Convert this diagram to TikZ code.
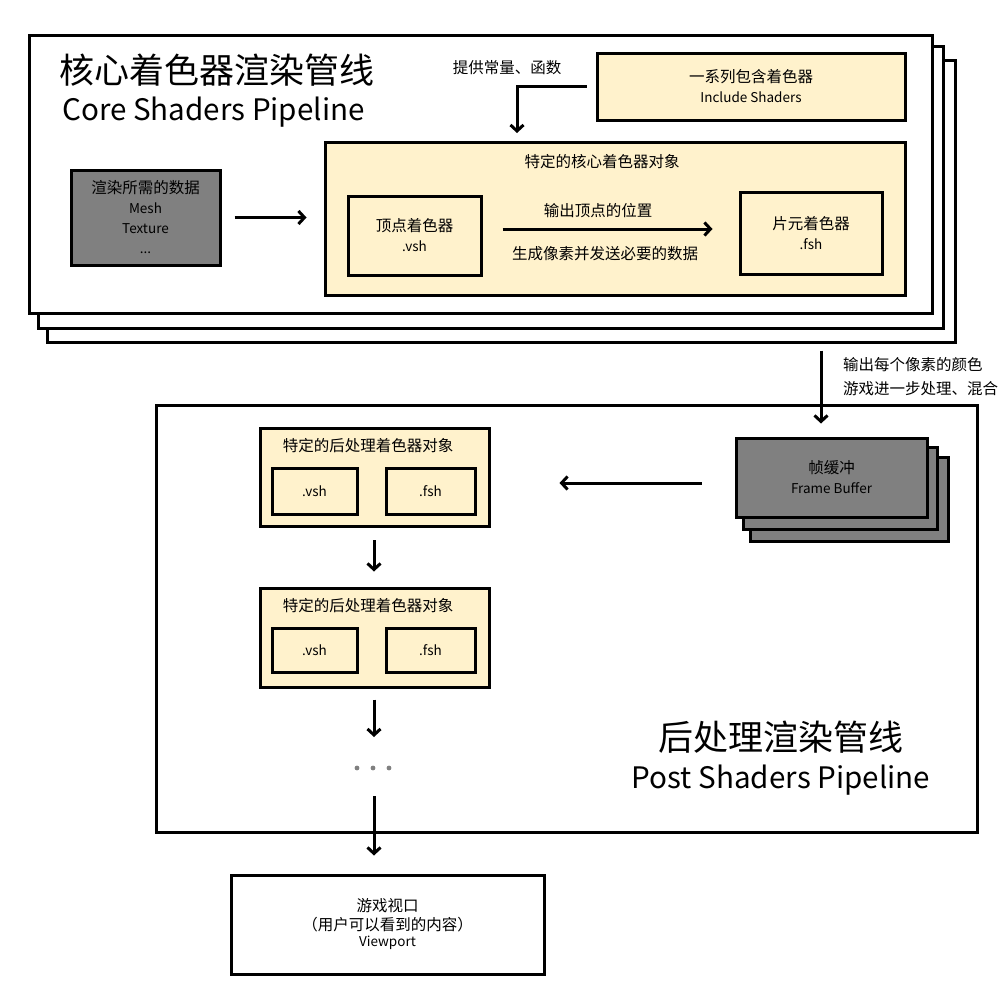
\documentclass[tikz,border=0pt]{standalone}
\usepackage{fontspec}
\setmainfont{Noto Sans CJK SC}
\usetikzlibrary{arrows.meta,calc}
\definecolor{ylw}{HTML}{FFF2CC}
\definecolor{gry}{HTML}{808080}
\newcommand{\zh}{\fontsize{15.5}{20}\selectfont}
\newcommand{\en}{\fontsize{13.5}{20}\selectfont}
\begin{document}
\begin{tikzpicture}[x=1pt,y=-1pt,
  box/.style={draw=black, line width=3pt, inner sep=0pt, align=center, text=black, font=\zh},
  wbox/.style={box, fill=white},
  ybox/.style={box, fill=ylw},
  gbox/.style={box, fill=gry},
  arr/.style={line width=3pt, -{Straight Barb[length=6pt,width=13pt,line width=3pt]}},
  lbl/.style={inner sep=0pt, align=center},
  bigzh/.style={lbl, font=\fontsize{35}{38}\selectfont},
  bigen/.style={lbl, font=\fontsize{29.6}{32}\selectfont},
]
\useasboundingbox (0,0) rectangle (1007,1001);
\fill[white] (0,0) rectangle (1007,1001);

% ---- core shader stack
\node[wbox, minimum width=908, minimum height=282] (core3) at (501,201) {};
\node[wbox, minimum width=905, minimum height=282] (core2) at (490.5,187) {};
\node[wbox, minimum width=903, minimum height=278] (core1) at (480.5,174) {};
\node[bigzh, anchor=west] (coretitle) at (59,70) {核心着色器渲染管线};
\node[bigen, anchor=west] (coresub) at (62,112) {Core Shaders Pipeline};

\node[gbox, minimum width=149, minimum height=95] (data) at (145.5,217.5)
  {渲染所需的数据\\{\en Mesh}\\{\en Texture}\\{\en ...}};

\node[ybox, minimum width=308, minimum height=67] (inc) at (751,86.5)
  {一系列包含着色器\\{\en Include Shaders}};
\node[lbl, font=\zh] (inclbl) at (507,68) {提供常量、函数};

\node[ybox, minimum width=580, minimum height=153] (obj) at (615,218.5) {};
\node[lbl, font=\zh] (objtitle) at (602,162) {特定的核心着色器对象};
\node[ybox, minimum width=133, minimum height=79] (vsh) at (414.5,235.5)
  {顶点着色器\\{\en .vsh}};
\node[ybox, minimum width=142, minimum height=82] (fsh) at (811,233)
  {片元着色器\\{\en .fsh}};
\node[lbl, font=\zh] (vlbl1) at (598,211) {输出顶点的位置};
\node[lbl, font=\zh] (vlbl2) at (605,254) {生成像素并发送必要的数据};

\coordinate (elbend) at (517,133);
\draw[arr, shorten <=9pt] (inc.west) -| (elbend);
\draw[arr, shorten <=13pt, shorten >=17pt] (data.east) -- (data.east -| obj.west);
\draw[arr, shorten <=20pt, shorten >=26pt] (vsh.east |- 0,229) -- (fsh.west |- 0,229);

% ---- post pipeline
\node[wbox, minimum width=821, minimum height=427] (post) at (566.5,618.5) {};
\node[bigzh] (posttitle) at (781,737) {后处理渲染管线};
\node[bigen] (postsub) at (781,780) {Post Shaders Pipeline};

\node[gbox, minimum width=198, minimum height=84] (fb3) at (849,499) {};
\node[gbox, minimum width=194, minimum height=82] (fb2) at (840,488) {};
\node[gbox, minimum width=191, minimum height=79] (fb1) at (831.5,477.5)
  {帧缓冲\\{\en Frame Buffer}};
\node[lbl, font=\zh, anchor=west, align=left] (fblbl) at (843,377)
  {输出每个像素的颜色\\[4pt]游戏进一步处理、混合};

\draw[arr, shorten <=7pt, shorten >=13pt] (core3.south -| 821,0) -- (fb1.north -| 821,0);

\node[ybox, minimum width=229, minimum height=98] (po1) at (374.5,477.5) {};
\node[lbl, font=\zh] (po1t) at (368,446) {特定的后处理着色器对象};
\node[ybox, minimum width=85, minimum height=46, font=\en] (po1v) at (314.5,491) {.vsh};
\node[ybox, minimum width=89, minimum height=46, font=\en] (po1f) at (430.5,491) {.fsh};

\node[ybox, minimum width=229, minimum height=99] (po2) at (374.5,637.5) {};
\node[lbl, font=\zh] (po2t) at (368,606) {特定的后处理着色器对象};
\node[ybox, minimum width=85, minimum height=44, font=\en] (po2v) at (314.5,650) {.vsh};
\node[ybox, minimum width=89, minimum height=44, font=\en] (po2f) at (430.5,650) {.fsh};

\draw[arr, shorten <=33pt, shorten >=69pt] (fb1.west |- 0,483) -- (po1.east |- 0,483);
\draw[arr, shorten <=12pt, shorten >=15pt] (po1.south -| 374,0) -- (po2.north -| 374,0);

\node[inner sep=0pt, minimum width=40, minimum height=8] (dots) at (373,768) {};
\foreach \dx in {-16,0,16}
  \fill[gray] ($(dots.center)+(\dx,0)$) circle (2.4);

\node[wbox, minimum width=313, minimum height=99] (view) at (387.5,924.5)
  {游戏视口\\[-1pt]（用户可以看到的内容）\\[-4pt]{\en Viewport}};

\draw[arr, shorten <=11pt, shorten >=31pt] (po2.south -| 374,0) -- (dots.center -| 374,0);
\draw[arr, shorten <=28pt, shorten >=18pt] (dots.center -| 374,0) -- (view.north -| 374,0);
\end{tikzpicture}
\end{document}
